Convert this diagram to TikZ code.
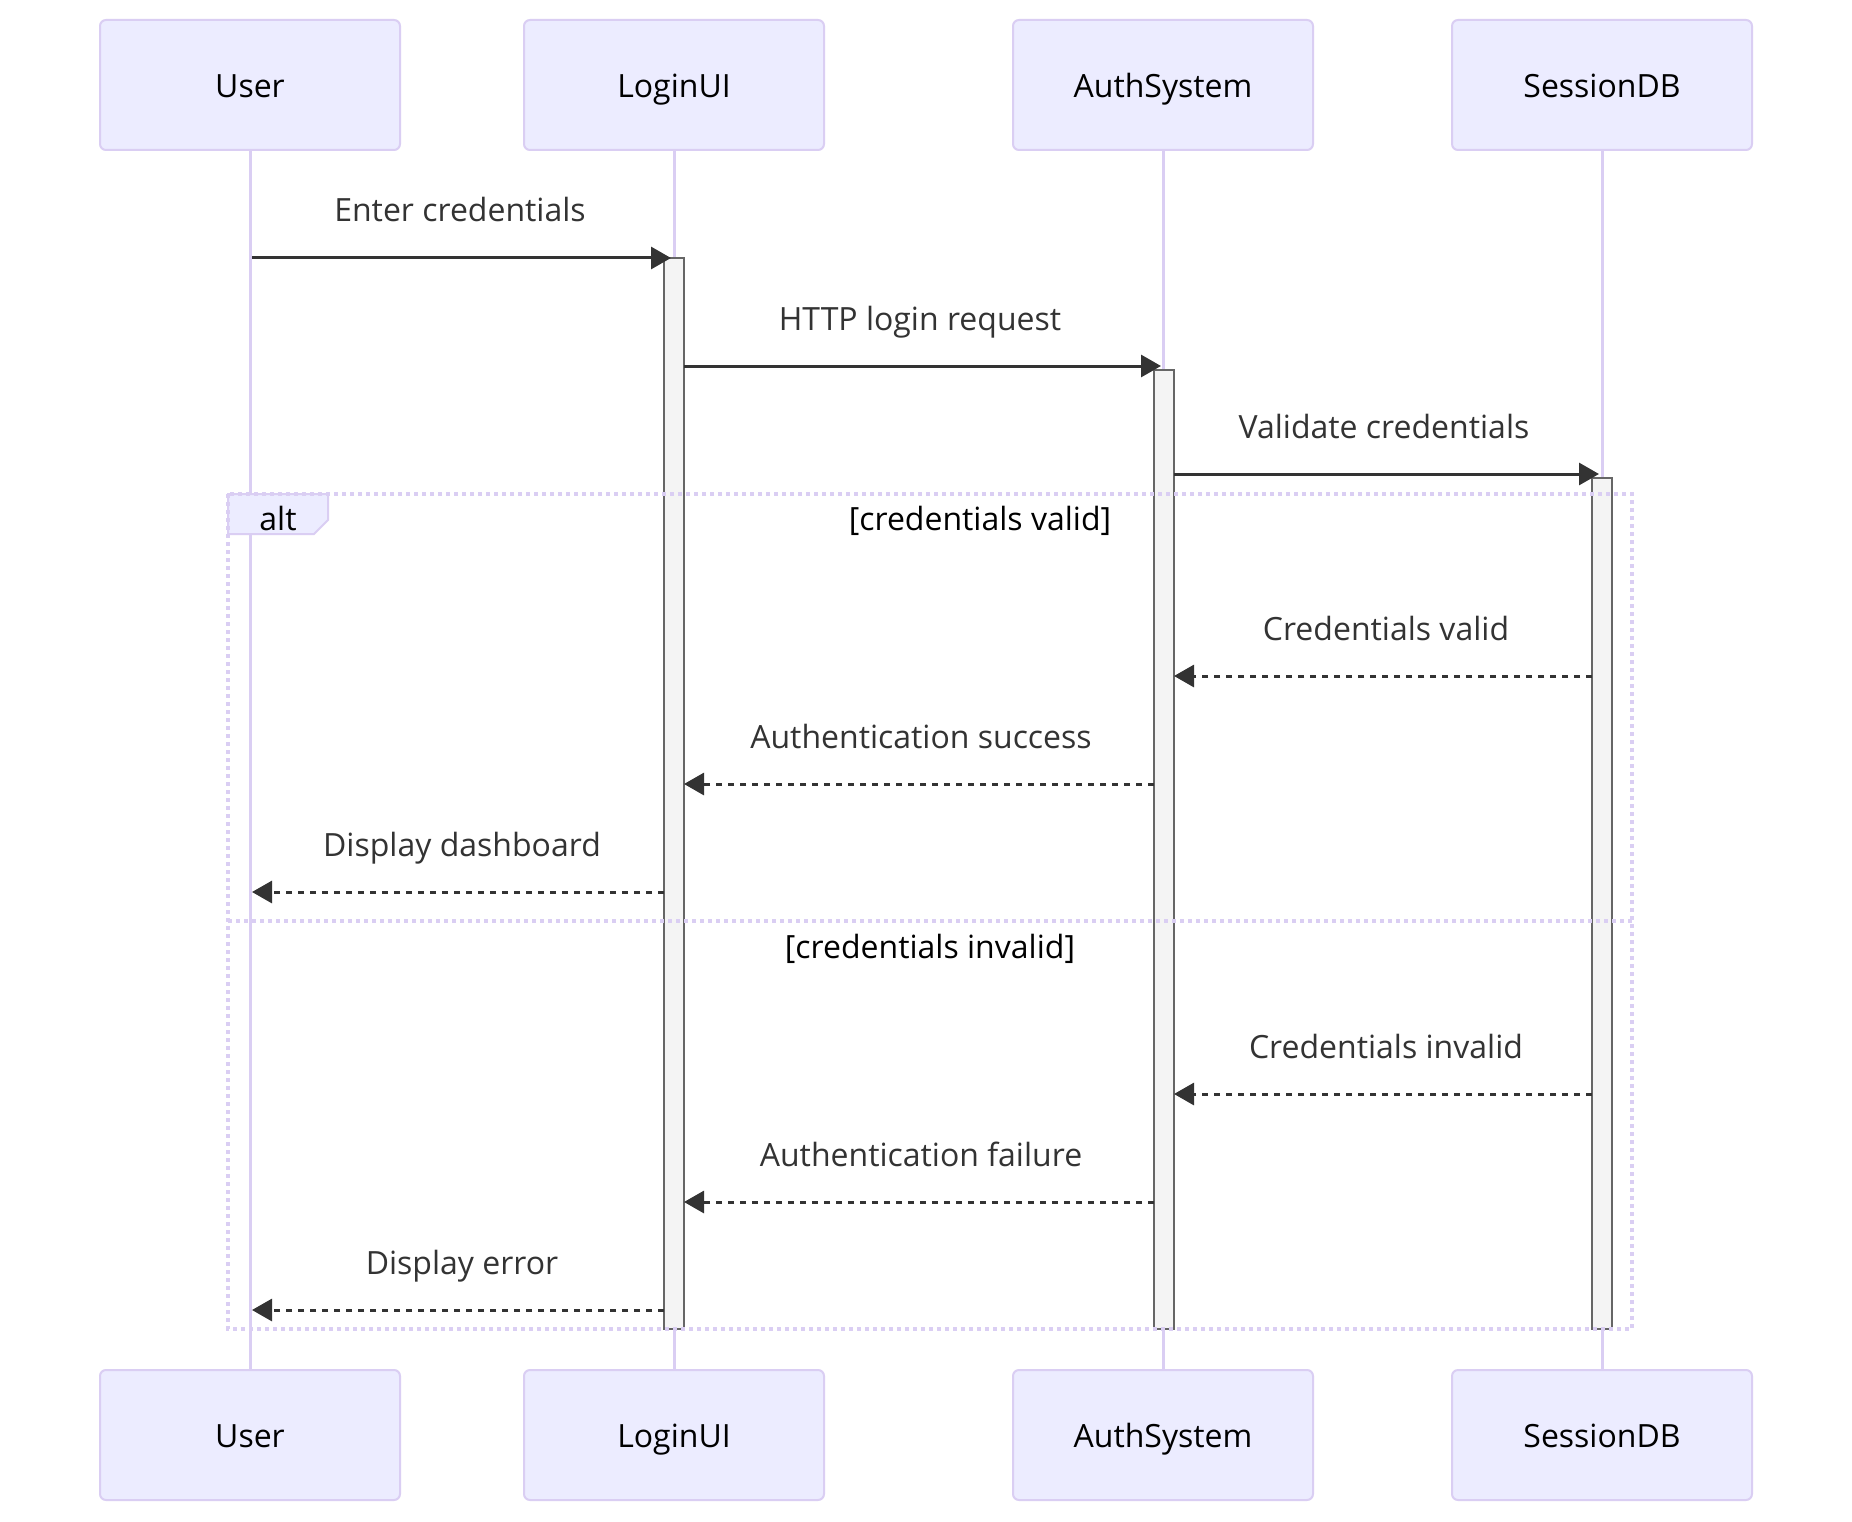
\documentclass[tikz,border=0pt]{standalone}
\usepackage{fontspec}
\setmainfont{Open Sans}
\usetikzlibrary{arrows.meta}
\definecolor{actfill}{HTML}{ECECFF}
\definecolor{actline}{HTML}{DACEF3}
\definecolor{msg}{HTML}{333333}
\definecolor{barfill}{HTML}{F4F4F4}
\definecolor{barline}{HTML}{666666}
\begin{document}
\begin{tikzpicture}[x=1pt,y=-1pt,
 actor/.style={draw=actline, fill=actfill, line width=2pt, rounded corners=6pt, minimum width=300pt, minimum height=130pt, inner sep=0pt, text height=25pt, text depth=0pt, font=\fontsize{32}{38}\selectfont, text=black},
 lifeline/.style={draw=actline, line width=3pt},
 bar/.style={draw=barline, fill=barfill, line width=2pt},
 msgtext/.style={anchor=base, font=\fontsize{32}{38}\selectfont, text=msg, inner sep=0pt},
 sync/.style={draw=msg, line width=3pt, -{Triangle[length=20pt,width=22pt]}},
 reply/.style={sync, dash pattern=on 6pt off 6pt},
 altframe/.style={draw=actline, line width=3.5pt, dash pattern=on 4pt off 4pt},
 condtext/.style={anchor=base, font=\fontsize{32}{38}\selectfont, text=black, inner sep=0pt}
]
\useasboundingbox[fill=white] (0,0) rectangle (1852,1522);

% actors
\node[actor] (u1) at (250,85) {User};
\node[actor] (l1) at (674,85) {LoginUI};
\node[actor] (a1) at (1163,85) {AuthSystem};
\node[actor] (s1) at (1602,85) {SessionDB};
\node[actor] (u2) at (250,1435) {User};
\node[actor] (l2) at (674,1435) {LoginUI};
\node[actor] (a2) at (1163,1435) {AuthSystem};
\node[actor] (s2) at (1602,1435) {SessionDB};

% lifelines
\draw[lifeline] (u1.south) -- (u2.north);
\draw[lifeline] (l1.south) -- (l2.north);
\draw[lifeline] (a1.south) -- (a2.north);
\draw[lifeline] (s1.south) -- (s2.north);

% activations
\draw[bar] (664,258) rectangle (684,1329);
\draw[bar] (1154,370) rectangle (1174,1329);
\draw[bar] (1592,478) rectangle (1612,1329);

% alt frame
\draw[draw=actline, fill=actfill, line width=2pt] (228,494) -- (328,494) -- (328,520) -- (314,534) -- (228,534) -- cycle;
\node[condtext] (altlbl) at (278,530) {alt};
\draw[altframe] (228,494) rectangle (1632,1329);
\draw[altframe] (228,921) -- (1632,921);
\node[condtext] (c1) at (980,530) {[credentials valid]};
\node[condtext] (c2) at (930,958) {[credentials invalid]};

% message end points
\coordinate (m1a) at (252,258);  \coordinate (m1b) at (671,258);
\coordinate (m2a) at (684,366);  \coordinate (m2b) at (1161,366);
\coordinate (m3a) at (1174,474); \coordinate (m3b) at (1599,474);
\coordinate (m4a) at (1592,676); \coordinate (m4b) at (1174,676);
\coordinate (m5a) at (1154,784); \coordinate (m5b) at (684,784);
\coordinate (m6a) at (664,892);  \coordinate (m6b) at (252,892);
\coordinate (m7a) at (1592,1094); \coordinate (m7b) at (1174,1094);
\coordinate (m8a) at (1154,1202); \coordinate (m8b) at (684,1202);
\coordinate (m9a) at (664,1310);  \coordinate (m9b) at (252,1310);

% messages
\node[msgtext] (t1) at (460,222) {Enter credentials};
\draw[sync] (m1a) -- (m1b);
\node[msgtext] (t2) at (920,330) {HTTP login request};
\draw[sync] (m2a) -- (m2b);
\node[msgtext] (t3) at (1384,438) {Validate credentials};
\draw[sync] (m3a) -- (m3b);
\node[msgtext] (t4) at (1386,640) {Credentials valid};
\draw[reply] (m4a) -- (m4b);
\node[msgtext] (t5) at (921,748) {Authentication success};
\draw[reply] (m5a) -- (m5b);
\node[msgtext] (t6) at (462,856) {Display dashboard};
\draw[reply] (m6a) -- (m6b);
\node[msgtext] (t7) at (1386,1058) {Credentials invalid};
\draw[reply] (m7a) -- (m7b);
\node[msgtext] (t8) at (921,1166) {Authentication failure};
\draw[reply] (m8a) -- (m8b);
\node[msgtext] (t9) at (462,1274) {Display error};
\draw[reply] (m9a) -- (m9b);
\end{tikzpicture}
\end{document}
